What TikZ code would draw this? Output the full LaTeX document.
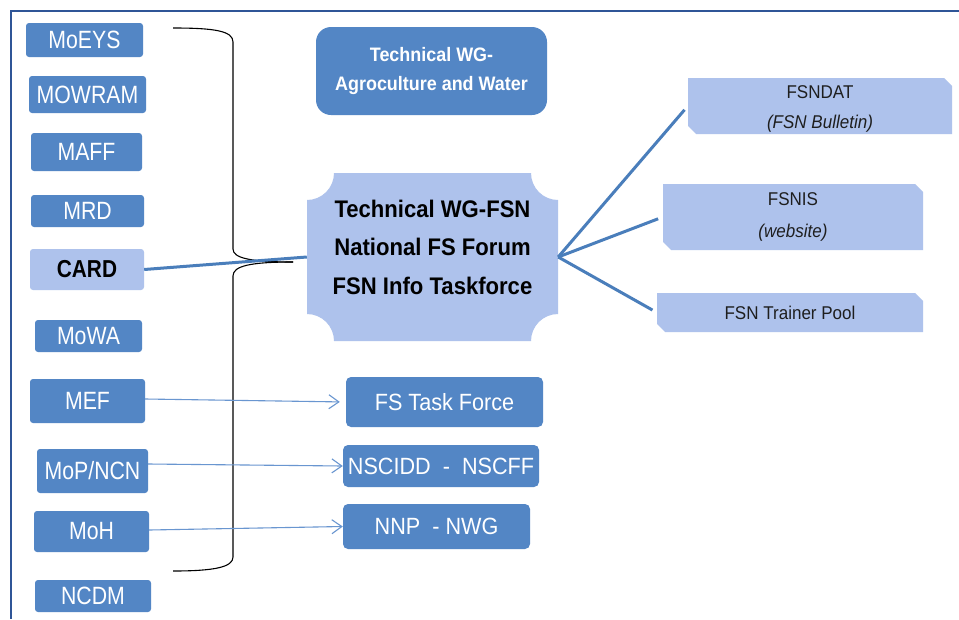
\documentclass[tikz,border=0pt]{standalone}
\usepackage{fontspec}
\setmainfont{Liberation Sans}
\newfontfamily\nfa{Liberation Sans}[FakeStretch=0.85]
\newfontfamily\nfb{Liberation Sans}[FakeStretch=0.92]
\usetikzlibrary{arrows.meta}
\definecolor{darkb}{RGB}{83,134,197}
\definecolor{lightb}{RGB}{174,194,236}
\definecolor{linkb}{RGB}{74,126,187}
\definecolor{thinb}{RGB}{105,150,208}
\definecolor{framec}{RGB}{47,85,151}
\definecolor{txtd}{RGB}{30,30,30}
\begin{document}
\begin{tikzpicture}[x=1pt,y=-1pt,
  lbox/.style={fill=darkb, text=white, rounded corners=3pt, inner sep=0pt,
    font=\nfa\fontsize{25}{28}\selectfont},
  cbox/.style={fill=lightb, text=black, rounded corners=3pt, inner sep=0pt,
    font=\nfa\bfseries\fontsize{24.5}{28}\selectfont},
  bbox/.style={fill=darkb, text=white, rounded corners=5pt, inner sep=0pt,
    font=\nfb\fontsize{23.5}{26}\selectfont},
  rbox/.style={inner sep=0pt, text=txtd, align=center,
    font=\nfb\fontsize{18.5}{30}\selectfont,
    path picture={\fill[lightb] (path picture bounding box.north west)
      -- ([xshift=-8pt]path picture bounding box.north east)
      -- ([yshift=-8pt]path picture bounding box.north east)
      -- (path picture bounding box.south east)
      -- ([xshift=8pt]path picture bounding box.south west)
      -- ([yshift=8pt]path picture bounding box.south west) -- cycle;}},
  thick link/.style={draw=linkb, line width=3pt},
  thin arrow/.style={draw=thinb, line width=1.1pt,
    -{Straight Barb[length=10pt,width=14pt,line width=1.1pt]}},
  bracec/.style={draw=black, line width=1.1pt}
]
\useasboundingbox (0,0) rectangle (959,619);
\fill[white] (0,0) rectangle (959,619);
% frame
\draw[framec, line width=2.5pt] (959,11) -- (11,11) -- (11,619);

% left column
\node[lbox, minimum width=117pt, minimum height=34pt] (moeys) at (84.5,40) {MoEYS};
\node[lbox, minimum width=117pt, minimum height=37pt] (mowram) at (87.5,94.5) {MOWRAM};
\node[lbox, minimum width=111pt, minimum height=38pt] (maff) at (86.5,152) {MAFF};
\node[lbox, minimum width=113pt, minimum height=32pt] (mrd) at (87.5,211) {MRD};
\node[cbox, minimum width=114pt, minimum height=41pt] (card) at (87,269.5) {CARD};
\node[lbox, minimum width=107pt, minimum height=32pt] (mowa) at (88.5,336) {MoWA};
\node[lbox, minimum width=115pt, minimum height=44pt] (mef) at (87.5,401) {MEF};
\node[lbox, minimum width=111pt, minimum height=44pt] (mop) at (92.5,471) {MoP/NCN};
\node[lbox, minimum width=115pt, minimum height=41pt] (moh) at (91.5,531.5) {MoH};
\node[lbox, minimum width=116pt, minimum height=32pt] (ncdm) at (93,596) {NCDM};

% brace
\draw[bracec] (173,28) .. controls (215,28) and (233,31) .. (233,42) -- (233,249)
  .. controls (233,258) and (250,262) .. (293,262);
\draw[bracec] (293,262) .. controls (250,262) and (233,266) .. (233,276) -- (233,557)
  .. controls (233,567) and (215,571) .. (173,571);

% top middle box
\node[fill=darkb, text=white, rounded corners=15pt, inner sep=0pt, align=center,
  minimum width=231pt, minimum height=88pt,
  font=\nfb\bfseries\fontsize{19.5}{29}\selectfont] (twg) at (431.5,71)
  {Technical WG-\\Agroculture and Water};

% hub
\fill[lightb] (334,173) -- (531,173) .. controls (531,187.9) and (543.1,200) .. (558,200)
  -- (558,314) .. controls (543.1,314) and (531,326.1) .. (531,341)
  -- (334,341) .. controls (334,326.1) and (321.9,314) .. (307,314)
  -- (307,200) .. controls (321.9,200) and (334,187.9) .. (334,173) -- cycle;
\node[inner sep=0pt, minimum width=251pt, minimum height=168pt] (hub) at (432.5,257) {};
\node[inner sep=0pt, align=center,
  font=\nfb\bfseries\fontsize{24}{38.5}\selectfont] (hubtext) at ([yshift=10pt]hub.center)
  {Technical WG-FSN\\National FS Forum\\FSN Info Taskforce};

% right boxes
\node[rbox, minimum width=264pt, minimum height=56pt] (fsndat) at (820,106)
  {\raisebox{-6pt}[0pt][0pt]{\begin{tabular}{@{}c@{}}FSNDAT\\\textit{(FSN Bulletin)}\end{tabular}}};
\node[rbox, minimum width=260pt, minimum height=66pt,
  font=\nfb\fontsize{18.5}{32}\selectfont] (fsnis) at (793,217)
  {FSNIS\\\textit{(website)}};
\node[rbox, minimum width=266pt, minimum height=39pt] (pool) at (790,312.5)
  {FSN Trainer Pool};

% bottom boxes
\node[bbox, minimum width=197pt, minimum height=50pt] (fstf) at (444.5,402) {FS Task Force};
\node[bbox, minimum width=196pt, minimum height=42pt] (nsc) at (441,466) {NSCIDD\ \ -\ \ NSCFF};
\node[bbox, minimum width=187pt, minimum height=45pt] (nnp) at (436.5,526.5) {NNP\ \ - NWG};

% connectors
\draw[thick link] (card.east) -- (hub.west);
\draw[thick link, shorten >=5pt] (hub.east) -- (fsndat.west);
\draw[thick link, shorten >=5pt] (hub.east) -- (fsnis.west);
\draw[thick link, shorten >=5pt] (hub.east) -- (pool.west);

\draw[thin arrow, shorten >=6pt] ([yshift=2pt]mef.east) -- (fstf.west);
\draw[thin arrow] ([yshift=7pt]mop.east) -- (nsc.west);
\draw[thin arrow] ([yshift=1.5pt]moh.east) -- (nnp.west);
\end{tikzpicture}
\end{document}
